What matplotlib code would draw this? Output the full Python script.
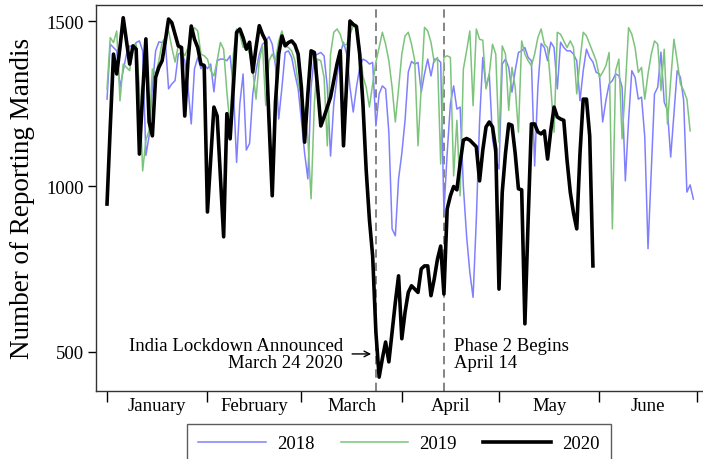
import matplotlib
matplotlib.use("Agg")
import matplotlib.pyplot as plt

plt.rcParams['font.family'] = ['Liberation Serif', 'DejaVu Serif']

# daily counts, day 0 = January 1
mandis_2018 = [
    1264, 1430, 1420, 1410, 1300, 1350, 1400, 1425, 1420, 1435,
    1440, 1410, 1094, 1153, 1300, 1410, 1437, 1435, 1440, 1295,
    1310, 1320, 1400, 1405, 1380, 1300, 1189, 1356, 1390, 1356,
    1370, 1356, 1370, 1286, 1380, 1385, 1385, 1380, 1395, 1300,
    1073, 1250, 1340, 1110, 1130, 1280, 1350, 1400, 1430, 1440,
    1453, 1430, 1365, 1204, 1300, 1405, 1410, 1390, 1340, 1295,
    1200, 1100, 1023, 1300, 1395, 1400, 1405, 1395, 1300, 1092,
    1250, 1330, 1400, 1436, 1400, 1300, 1225, 1300, 1360, 1385,
    1380, 1370, 1375, 1183, 1280, 1304, 1295, 1164, 872, 851,
    1023, 1100, 1200, 1346, 1378, 1370, 1375, 1285, 1340, 1385,
    1334, 1385, 1385, 1375, 923, 1100, 1250, 1304, 1234, 1240,
    1000, 850, 740, 665, 900, 1195, 1390, 1300, 1340, 1144,
    1083, 1053, 1370, 1385, 1360, 1285, 1350, 1405, 1410, 1420,
    1390, 1380, 1062, 1300, 1432, 1420, 1380, 1436, 1420, 1295,
    1436, 1420, 1410, 1410, 1400, 1380, 1259, 1350, 1415, 1390,
    1376, 1345, 1340, 1195, 1260, 1310, 1320, 1340, 1335, 1300,
    1017, 1200, 1350, 1330, 1264, 1270, 1150, 812, 1050, 1280,
    1300, 1406, 1255, 1230, 1089, 1220, 1350, 1330, 1260, 983,
    1005, 962,
]

mandis_2019 = [
    1295, 1450, 1435, 1470, 1259, 1370, 1360, 1350, 1425, 1430,
    1300, 1047, 1140, 1170, 1355, 1340, 1380, 1435, 1450, 1470,
    1420, 1376, 1425, 1410, 1395, 1420, 1460, 1480, 1470, 1400,
    1395, 1385, 1350, 1334, 1380, 1435, 1415, 1285, 1183, 1400,
    1476, 1460, 1420, 1430, 1400, 1350, 1264, 1380, 1425, 1245,
    1380, 1400, 1380, 1440, 1470, 1425, 1420, 1410, 1380, 1315,
    1270, 1225, 1144, 963, 1250, 1385, 1380, 1330, 1123, 1400,
    1466, 1476, 1460, 1425, 1430, 1460, 1485, 1490, 1420, 1334,
    1300, 1240, 1310, 1376, 1420, 1466, 1430, 1380, 1300, 1195,
    1295, 1400, 1455, 1466, 1430, 1380, 1123, 1300, 1481, 1470,
    1436, 1376, 1390, 1068, 1390, 1395, 1390, 1032, 1200, 972,
    1355, 1410, 1470, 1244, 1476, 1445, 1442, 1295, 1340, 1430,
    1400, 1134, 1425, 1400, 1230, 1360, 1300, 1164, 1440, 1400,
    1380, 1365, 1400, 1450, 1476, 1430, 1420, 1300, 1164, 1466,
    1460, 1440, 1420, 1440, 1420, 1280, 1380, 1466, 1455, 1430,
    1405, 1380, 1330, 1345, 1365, 1405, 872, 1350, 1385, 1144,
    1300, 1480, 1460, 1420, 1345, 1360, 1264, 1340, 1400, 1440,
    1430, 1290, 1415, 1189, 1320, 1445, 1380, 1310, 1290, 1264,
    1168,
]

mandis_2020 = [
    947, 1180, 1400, 1340, 1420, 1510, 1440, 1370, 1425, 1415,
    1098, 1280, 1446, 1195, 1153, 1330, 1360, 1380, 1440, 1506,
    1495, 1460, 1425, 1420, 1213, 1380, 1485, 1445, 1420, 1370,
    1365, 923, 1080, 1240, 1213, 1030, 848, 1220, 1144, 1300,
    1466, 1476, 1450, 1415, 1436, 1346, 1420, 1486, 1460, 1440,
    1200, 972, 1255, 1400, 1455, 1425, 1435, 1440, 1428, 1400,
    1300, 1134, 1280, 1410, 1405, 1300, 1183, 1210, 1240, 1270,
    1320, 1370, 1410, 1123, 1320, 1500, 1490, 1483, 1400, 1250,
    1050, 900, 790, 560, 424, 480, 530, 470, 560, 650,
    730, 540, 620, 680, 700, 690, 680, 751, 760, 760,
    670, 720, 780, 820, 675, 932, 972, 1000, 990, 1070,
    1140, 1145, 1140, 1130, 1120, 1017, 1110, 1180, 1195, 1180,
    1113, 690, 983, 1100, 1189, 1185, 1100, 993, 990, 585,
    900, 1189, 1189, 1165, 1159, 1168, 1083, 1170, 1240, 1210,
    1204, 1200, 1080, 983, 920, 872, 1100, 1264, 1264, 1153,
    760,
]

months = ['January', 'February', 'March', 'April', 'May', 'June']
month_starts = [0, 31, 60, 91, 121, 152, 182]
lockdown_day = 83   # March 24
phase2_day = 104    # April 14

fig = plt.figure(figsize=(7.03, 4.6), dpi=100)
ax = fig.add_axes([96 / 703, 68 / 460, 610 / 703, 386.5 / 460])

ax.plot(range(len(mandis_2018)), mandis_2018, color='#8080ff', lw=1.1, label='2018')
ax.plot(range(len(mandis_2019)), mandis_2019, color='#7cc47c', lw=1.1, label='2019')
ax.plot(range(len(mandis_2020)), mandis_2020, color='black', lw=2.6, label='2020')

ax.axvline(lockdown_day, color='#707070', ls=(0, (5, 3)), lw=1.2, zorder=0)
ax.axvline(phase2_day, color='#707070', ls=(0, (5, 3)), lw=1.2, zorder=0)

ax.set_xlim(-3.4, 184.9)
ax.set_ylim(382, 1550)

ax.set_yticks([500, 1000, 1500])
ax.set_ylabel('Number of Reporting Mandis', fontsize=19.5, labelpad=8)

ax.set_xticks(month_starts)
ax.set_xticklabels([])
mids = [(a + b) / 2 for a, b in zip(month_starts[:-1], month_starts[1:])]
ax.set_xticks(mids, minor=True)
ax.set_xticklabels(months, minor=True)
ax.tick_params(axis='x', which='major', length=8, width=1, direction='out')
ax.tick_params(axis='x', which='minor', length=0, pad=4, labelsize=13.5)
ax.tick_params(axis='y', length=6, width=1, labelsize=13.5, pad=3)

for s in ax.spines.values():
    s.set_color('#333333')
    s.set_linewidth(1)

ax.text(72.8, 494, 'India Lockdown Announced\nMarch 24 2020', ha='right', va='center',
        multialignment='right', fontsize=13.5, linespacing=1.05)
ax.annotate('', xy=(82.4, 494), xytext=(74.8, 494),
            arrowprops=dict(arrowstyle='->', color='black', lw=1))
ax.text(107.2, 494, 'Phase 2 Begins\nApril 14', ha='left', va='center',
        fontsize=13.5, linespacing=1.05)

leg = fig.legend(loc='upper left', bbox_to_anchor=(187 / 703, 1 - 425 / 460), ncol=3,
                 fontsize=13.5, frameon=True, fancybox=False, handlelength=3.6,
                 handletextpad=0.6, columnspacing=1.4, borderpad=0.6, borderaxespad=0)
leg.get_frame().set_edgecolor('#333333')
leg.get_frame().set_linewidth(1)

fig.savefig('out.png', dpi=100)
